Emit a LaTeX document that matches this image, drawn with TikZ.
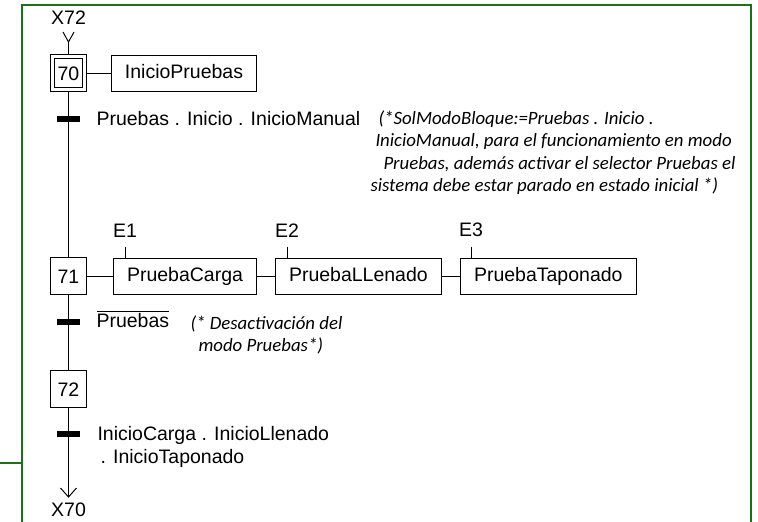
\documentclass[tikz,border=0pt]{standalone}
\usepackage{fontspec}
\setmainfont{Liberation Sans}
\newfontfamily\notefont{Carlito}
\definecolor{framegreen}{RGB}{28,112,28}
\begin{document}
\begin{tikzpicture}[x=1pt,y=-1pt,line width=1pt,
  every node/.style={font=\fontsize{19.5}{22}\selectfont},
  stepbox/.style={draw,minimum width=36pt,minimum height=37pt,inner sep=0pt,text height=14pt,text depth=0pt},
  actbox/.style={draw,minimum height=36pt,inner xsep=13.5pt,inner ysep=0pt,text height=14pt,text depth=4pt},
  trbar/.style={fill=black,minimum width=23pt,minimum height=6pt,inner sep=0pt},
  lbl/.style={inner sep=0pt,anchor=base west},
  note/.style={inner sep=0pt,anchor=base west,font=\notefont\itshape\fontsize{18.8}{22}\selectfont},
  frame/.style={draw=framegreen,line width=2pt}
]
\useasboundingbox (0,0) rectangle (758,522);

% enclosing frame
\draw[frame] (22,523) -- (22,5) -- (751,5) -- (751,523);
\draw[frame] (0,463) -- (22,463);

% incoming link from step 72
\node (x72) at (68.5,18) {X72};
\coordinate (intip) at (68.5,42);
\draw (intip) ++(-5.5,-10) -- (intip) -- ++(5.5,-10);

% step 70 (initial) and its action
\node[stepbox,double,double distance=3pt,minimum width=32pt,minimum height=33pt,outer sep=2.5pt] (s70) at (68.5,73) {70};
\node[actbox] (a70) at (184,73) {InicioPruebas};
\draw (s70.east) -- (a70.west);

% transition 70 -> 71
\node[trbar] (b1) at (68.5,118.5) {};
\node[lbl] (t1) at (96,125) {Pruebas . Inicio . InicioManual};
\node[note] (n1) at (378,124) {(*SolModoBloque:=Pruebas . Inicio .};
\node[note] (n2) at (375,146.5) {InicioManual, para el funcionamiento en modo};
\node[note] (n3) at (383,169) {Pruebas, además activar el selector Pruebas el};
\node[note] (n4) at (370,191.5) {sistema debe estar parado en estado inicial *)};

% step 71 and its actions
\node[stepbox] (s71) at (68.5,276) {71};
\node[actbox,anchor=west] (pc) at (113,276) {PruebaCarga};
\node[actbox,anchor=west] (pl) at (275,276) {PruebaLLenado};
\node[actbox,anchor=west] (pt) at (460,276) {PruebaTaponado};
\draw (s71.east) -- (pc.west);
\draw (pc.east) -- (pl.west);
\draw (pl.east) -- (pt.west);
\draw ([xshift=12pt]pc.north west) -- ++(0,-11) node[above,inner sep=0pt,yshift=9pt] (e1) {E1};
\draw ([xshift=12pt]pl.north west) -- ++(0,-11) node[above,inner sep=0pt,yshift=9pt] (e2) {E2};
\draw ([xshift=11pt]pt.north west) -- ++(0,-11) node[above,inner sep=0pt,yshift=9pt] (e3) {E3};

% transition 71 -> 72
\node[trbar] (b2) at (68.5,321.5) {};
\node[lbl] (t2) at (96,327) {$\overline{\mbox{Pruebas}}$};
\node[note] (n5) at (190,329) {(* Desactivación del};
\node[note] (n6) at (198,351) {modo Pruebas*)};

% step 72
\node[stepbox] (s72) at (68.5,389) {72};

% transition 72 -> 70
\node[trbar] (b3) at (68.5,433.5) {};
\node[lbl] (t3) at (97,440) {InicioCarga . InicioLlenado};
\node[lbl] (t4) at (100,463) {. InicioTaponado};

% outgoing link to step 70
\coordinate (outtip) at (68.5,497);
\node (x70) at (68.5,510) {X70};
\draw (outtip) ++(-8,-9) -- (outtip) -- ++(8,-9);

% main sequence line
\draw (intip) -- (s70.north);
\draw (s70.south) -- (s71.north);
\draw (s71.south) -- (s72.north);
\draw (s72.south) -- (outtip);
\end{tikzpicture}
\end{document}
